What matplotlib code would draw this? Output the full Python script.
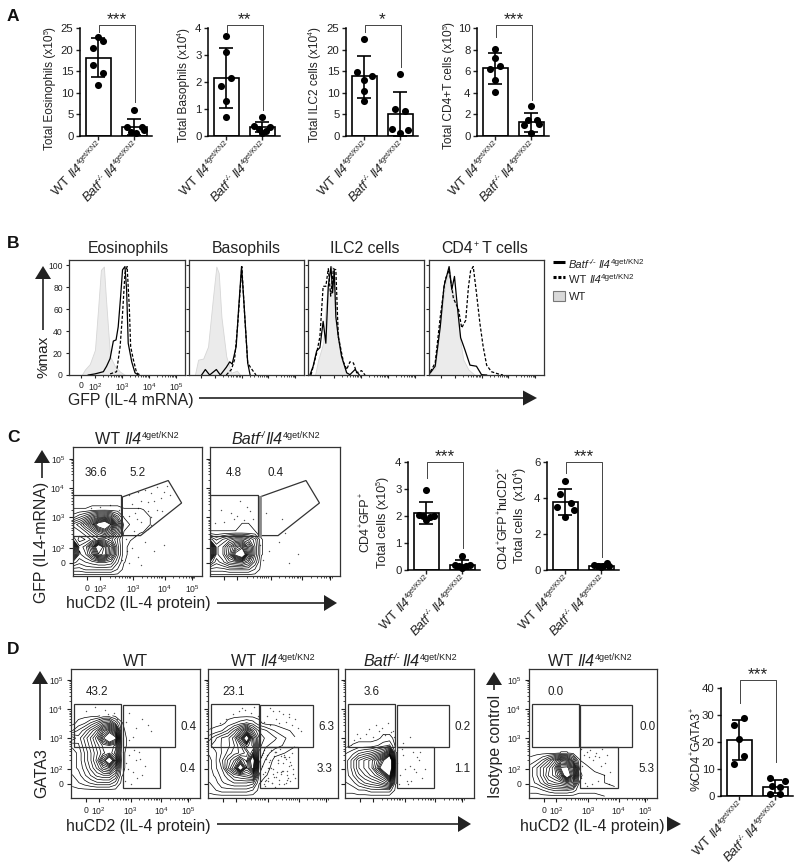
import numpy as np
import matplotlib
matplotlib.use("Agg")
import matplotlib.pyplot as plt
from matplotlib.font_manager import FontProperties
from matplotlib.patches import Polygon, Rectangle

plt.rcParams["font.family"] = "Liberation Sans"
plt.rcParams["mathtext.default"] = "regular"

W, H = 800, 868
INK = "#222222"

# bar panels: mean, error bar ends, dots and their horizontal spread
eos_wt = [23.0, 22.0, 20.3, 16.5, 14.5, 11.8]
eos_wt_x = [0, 0.14, -0.14, -0.14, 0.14, 0]
eos_ko = [6.0, 2.1, 2.0, 1.5, 1.0, 0.8]
eos_ko_x = [0, -0.2, 0.2, 0.28, -0.1, 0.05]
eos_bar, eos_lo, eos_hi = [18.1, 2.0], [13.6, 0.2], [22.6, 4.0]

baso_wt = [3.7, 3.1, 2.15, 1.85, 1.3, 0.7]
baso_wt_x = [0, 0, 0.14, -0.14, 0, 0]
baso_ko = [0.72, 0.37, 0.35, 0.25, 0.2, 0.12]
baso_ko_x = [0, -0.22, 0.2, -0.1, 0.1, 0]
baso_bar, baso_lo, baso_hi = [2.15, 0.33], [1.02, 0.13], [3.25, 0.53]

ilc_wt = [22.4, 14.8, 13.8, 13.0, 10.4, 8.0]
ilc_wt_x = [0, -0.2, 0.2, 0, 0, 0]
ilc_ko = [14.3, 6.3, 5.9, 1.6, 1.4, 0.6]
ilc_ko_x = [0, -0.15, 0.14, -0.22, 0.2, 0]
ilc_bar, ilc_lo, ilc_hi = [13.8, 5.1], [8.9, 0.0], [18.6, 10.2]

cd4_wt = [8.1, 7.2, 6.5, 6.2, 5.2, 4.1]
cd4_wt_x = [0, 0, 0.14, -0.14, 0, 0]
cd4_ko = [2.8, 1.5, 1.45, 1.1, 1.0, 0.3]
cd4_ko_x = [0, -0.1, 0.15, 0.2, -0.2, 0]
cd4_bar, cd4_lo, cd4_hi = [6.3, 1.3], [4.85, 0.4], [7.7, 2.15]

gfp_wt = [2.95, 2.05, 2.0, 2.0, 1.95, 1.85]
gfp_wt_x = [0, -0.2, -0.1, 0.2, 0.1, 0]
gfp_ko = [0.52, 0.2, 0.2, 0.15, 0.13, 0.08]
gfp_ko_x = [0, -0.2, 0.2, -0.1, 0.1, 0]
gfp_bar, gfp_lo, gfp_hi = [2.1, 0.2], [1.7, 0.05], [2.52, 0.36]

hucd2_wt = [4.95, 4.2, 3.75, 3.5, 3.35, 2.95]
hucd2_wt_x = [0, -0.14, 0.15, -0.22, 0.24, 0]
hucd2_ko = [0.4, 0.3, 0.25, 0.2, 0.2, 0.15]
hucd2_ko_x = [0.15, -0.2, 0.05, -0.1, 0.22, 0]
hucd2_bar, hucd2_lo, hucd2_hi = [3.8, 0.25], [3.05, 0.15], [4.5, 0.35]

gata_wt = [28.8, 26.2, 21.0, 14.8, 11.8]
gata_wt_x = [0.14, -0.14, 0, 0.14, -0.14]
gata_ko = [6.8, 5.6, 3.6, 3.4, 0.8, 0.7]
gata_ko_x = [-0.14, 0.28, -0.1, 0.14, -0.14, 0.14]
gata_bar, gata_lo, gata_hi = [20.8, 3.5], [13.5, 1.0], [28.0, 6.0]

# histograms, x in decades of GFP, y in % of max
eos_grey = ([1.51, 1.63, 1.81, 2.0, 2.12, 2.22, 2.33, 2.4, 2.49, 2.56, 2.74, 2.93, 3.11],
            [0, 5, 10, 23, 62, 96, 99, 72, 41, 17, 8, 3, 0])
eos_solid = ([1.75, 2.0, 2.31, 2.43, 2.56, 2.68, 2.78, 2.86, 2.95, 3.02, 3.11, 3.17, 3.23, 3.36, 3.48, 3.6],
             [0, 1, 3, 8, 15, 31, 32, 44, 72, 96, 99, 78, 29, 12, 2, 0])
eos_dash = ([2.56, 2.8, 2.93, 3.02, 3.11, 3.19, 3.27, 3.32, 3.42, 3.54, 3.67],
            [1, 3, 26, 56, 93, 99, 62, 26, 14, 2, 0])
baso_grey = ([1.26, 1.38, 1.57, 1.75, 1.94, 2.06, 2.15, 2.25, 2.43, 2.62, 2.83, 2.95],
             [0, 14, 15, 26, 72, 99, 93, 53, 17, 2, 4, 0])
baso_solid = ([1.51, 1.65, 1.81, 2.06, 2.21, 2.43, 2.56, 2.65, 2.8, 2.89, 3.0, 3.09, 3.23, 3.32],
              [0, 5, 0, 5, 0, 7, 12, 10, 26, 60, 99, 66, 11, 0])
baso_dash = ([2.43, 2.62, 2.74, 2.86, 3.01, 3.11, 3.23, 3.36, 3.54],
             [0, 5, 14, 47, 99, 57, 11, 6, 0])
ilc_grey = ([1.3, 1.42, 1.6, 1.73, 1.85, 1.94, 2.04, 2.16, 2.28, 2.47, 2.59],
            [0, 14, 29, 72, 96, 99, 75, 38, 17, 2, 0])
ilc_solid = ([1.11, 1.23, 1.36, 1.48, 1.6, 1.7, 1.79, 1.89, 1.95, 2.01, 2.07, 2.16, 2.28, 2.47, 2.59, 2.78, 2.94],
             [0, 8, 22, 25, 49, 29, 81, 99, 75, 96, 53, 35, 17, 2, 0.3, 5, 0])
ilc_dash = ([1.15, 1.36, 1.48, 1.6, 1.7, 1.79, 1.88, 1.98, 2.07, 2.16, 2.35, 2.47, 2.59, 2.72, 2.84, 3.02, 3.15],
            [0, 20, 35, 81, 81, 97, 72, 97, 96, 35, 12, 5, 12, 11, 2, 4, 0])
t_grey = ([1.09, 1.27, 1.46, 1.64, 1.79, 1.89, 2.07, 2.2, 2.32, 2.51, 2.75],
          [3, 6, 47, 81, 99, 81, 62, 32, 14, 5, 0])
t_solid = ([1.09, 1.27, 1.46, 1.6, 1.79, 1.89, 1.99, 2.1, 2.22, 2.38, 2.57, 2.81, 3.0, 3.19],
           [2, 8, 44, 81, 99, 78, 90, 62, 34, 23, 9, 8, 0.3, 0])
t_dash = ([1.09, 1.27, 1.46, 1.64, 1.79, 1.95, 2.14, 2.26, 2.41, 2.51, 2.59, 2.69, 2.81, 2.94, 3.06, 3.19, 3.37, 3.62, 3.8],
          [3, 11, 53, 87, 96, 70, 60, 43, 50, 80, 95, 99, 75, 47, 26, 9, 3, 1, 0])

# contour heights, rows go bottom to top
grid_x = [1.15, 1.35, 1.55, 1.75, 1.95, 2.15, 2.35, 2.55, 2.75, 2.95, 3.25, 3.9]
grid_y = [1.1, 1.3, 1.55, 1.8, 2.05, 2.3, 2.55, 2.8, 3.05, 3.3, 3.55, 3.8]
empty = [0, 0, 0, 0, 0, 0, 0, 0, 0, 0, 0, 0]
c_wt = [empty,
        [3, 3, 4, 4, 4, 4, 4, 2, 0, 0, 0, 0],
        [8, 6, 7, 8, 9, 9, 8, 4, 0.6, 0, 0, 0],
        [20, 8, 10, 15, 24, 22, 14, 6, 1, 0, 0, 0],
        [26, 9, 11, 18, 30, 22, 15, 6, 1, 0, 0, 0],
        [10, 6, 7, 9, 11, 11, 9, 5, 1, 0.6, 0, 0],
        [7, 8, 10, 13, 17, 20, 16, 9, 2, 1, 0.6, 0],
        [9, 11, 15, 20, 28, 32, 24, 12, 3, 2, 1, 0],
        [3, 5, 7, 10, 13, 14, 11, 6, 2, 1, 1, 0],
        [0.6, 0.6, 0.6, 1, 1, 1, 1, 1, 0.6, 0.6, 0.6, 0],
        empty, empty]
c_ko = [empty,
        [3, 3, 3, 4, 4, 4, 4, 2, 0, 0, 0, 0],
        [10, 6, 8, 11, 12, 13, 10, 5, 0, 0, 0, 0],
        [24, 8, 10, 16, 26, 32, 17, 7, 0.6, 0, 0, 0],
        [24, 8, 10, 15, 20, 23, 15, 7, 0.6, 0, 0, 0],
        [8, 5, 7, 9, 11, 11, 9, 6, 0.6, 0, 0, 0],
        [0.6, 0.6, 0.6, 0.6, 0.6, 0.6, 0.6, 0.6, 0, 0, 0, 0],
        [0, 0, 0, 0, 0, 0.6, 0.6, 0, 0, 0, 0, 0],
        empty, empty, empty, empty]
d_wt = [empty, empty,
        [1, 2, 3, 4, 5, 5, 5, 3, 0, 0, 0, 0],
        [2, 3, 5, 7, 9, 10, 10, 7, 0.6, 0, 0, 0],
        [3, 4, 6, 9, 12, 16, 18, 12, 1, 0, 0, 0],
        [3, 4, 7, 10, 14, 22, 30, 20, 1, 0, 0, 0],
        [3, 4, 7, 10, 13, 16, 18, 14, 1, 0, 0, 0],
        [4, 5, 8, 11, 14, 17, 18, 16, 2, 0, 0, 0],
        [8, 6, 9, 12, 16, 24, 32, 26, 2, 0, 0, 0],
        [2, 4, 6, 9, 12, 18, 22, 16, 1, 0, 0, 0],
        [0, 1, 2, 4, 6, 9, 10, 5, 0.6, 0, 0, 0],
        [0, 0, 0, 0, 0, 1, 1, 0, 0, 0, 0, 0]]
d_het = [empty,
         [1, 2, 3, 3, 3, 3, 3, 2, 0, 0, 0, 0],
         [2, 3, 5, 6, 7, 7, 7, 6, 0.6, 0, 0, 0],
         [3, 4, 6, 8, 11, 12, 13, 15, 2, 0.6, 0, 0],
         [3, 5, 7, 13, 18, 30, 18, 26, 3, 1, 0, 0],
         [3, 5, 8, 12, 15, 20, 16, 30, 4, 2, 0, 0],
         [4, 5, 7, 9, 11, 12, 14, 20, 5, 3, 1, 0],
         [5, 6, 7, 8, 10, 13, 19, 16, 6, 4, 3, 0.6],
         [3, 5, 7, 8, 11, 18, 30, 14, 7, 5, 4, 0.6],
         [0.6, 1, 2, 4, 7, 11, 16, 9, 5, 4, 2, 0],
         [0, 0, 0, 1, 2, 3, 4, 3, 1, 0, 0, 0],
         empty]
d_ko = [empty,
        [1, 1, 2, 2, 3, 3, 3, 3, 0, 0, 0, 0],
        [2, 3, 5, 7, 8, 9, 11, 14, 0.6, 0, 0, 0],
        [3, 5, 8, 10, 12, 14, 17, 26, 0.6, 0, 0, 0],
        [3, 6, 10, 12, 14, 20, 30, 36, 0.6, 0, 0, 0],
        [3, 6, 10, 12, 14, 18, 24, 36, 0.6, 0, 0, 0],
        [2, 3, 5, 6, 7, 9, 11, 18, 0.6, 0, 0, 0],
        [0, 0.6, 1, 1, 1, 2, 3, 4, 0, 0, 0, 0],
        [0, 0, 0, 0, 0, 0, 1, 1, 0, 0, 0, 0],
        empty, empty, empty]
d_iso = [[0, 0, 0, 0, 0, 0, 0, 0, 0, 0, 0, 1],
         [1, 1, 2, 3, 4, 4, 4, 3, 1, 1, 1, 1],
         [3, 4, 6, 9, 10, 11, 13, 11, 2, 1, 1, 0],
         [3, 5, 8, 12, 14, 19, 30, 20, 3, 1, 1, 0],
         [3, 5, 8, 11, 15, 25, 26, 18, 2, 1, 0, 0],
         [1, 2, 4, 7, 11, 17, 15, 8, 0.6, 0, 0, 0],
         [0, 0, 0, 0, 0, 0.6, 0.6, 0, 0, 0, 0, 0],
         empty, empty, empty, empty, empty]

# single events outside the contours
c_wt_dots = ([1.7, 2.0, 2.3, 2.6, 2.9, 3.0, 3.1, 3.2, 3.3, 3.4, 3.5, 3.6, 3.7, 3.8, 3.9, 4.0, 4.1, 3.2, 3.5, 3.8, 2.9, 3.3,
              3.6, 4.2, 2.8, 3.0, 3.2, 3.4, 3.7, 4.0, 2.9, 3.1, 3.3, 2.85, 3.05, 3.5, 2.7, 3.15, 3.6, 3.95],
             [3.35, 3.4, 3.45, 3.3, 3.8, 3.5, 3.2, 3.9, 3.6, 3.95, 3.55, 3.85, 3.6, 4.05, 3.7, 3.9, 4.1, 3.35, 3.25, 3.3, 3.1, 2.9,
              2.8, 3.8, 2.3, 2.0, 1.7, 2.2, 1.9, 2.1, 1.5, 2.4, 1.45, 1.9, 2.6, 2.65, 1.6, 3.0, 3.05, 3.25])
c_ko_dots = ([1.3, 1.6, 1.9, 2.2, 2.5, 1.5, 1.8, 2.1, 2.4, 2.7, 3.0, 3.3, 3.6, 3.9, 2.9, 3.4, 2.8, 3.5, 2.0, 2.3],
             [2.85, 2.9, 3.0, 2.95, 3.0, 3.3, 3.2, 3.6, 3.25, 2.1, 1.9, 2.2, 1.5, 1.8, 3.2, 3.0, 1.6, 2.5, 3.1, 3.4])
d_wt_dots = ([2.8, 2.9, 3.0, 3.1, 3.2, 3.3, 3.4, 3.5, 2.85, 2.95, 3.05, 3.15, 3.25, 3.35, 2.8, 3.0, 3.2, 2.9, 3.1, 3.6, 1.6, 1.9,
              2.2, 2.5, 2.0, 2.3, 2.6, 3.0, 3.4, 3.7],
             [2.6, 2.2, 2.5, 1.9, 2.3, 2.6, 1.8, 2.1, 1.6, 2.0, 1.5, 2.65, 1.7, 2.35, 2.0, 3.0, 3.4, 3.6, 3.1, 3.5, 3.95, 4.1,
              4.0, 3.9, 3.7, 3.85, 3.7, 3.9, 3.7, 3.3])
d_het_dots = ([2.8, 2.85, 2.9, 2.95, 3.0, 3.05, 3.1, 3.15, 3.2, 3.25, 3.3, 3.35, 3.4, 3.45, 3.5, 3.55, 3.6, 3.65, 3.7, 3.75,
               3.8, 3.85, 3.9, 2.82, 2.92, 3.02, 3.12, 3.22, 3.32, 3.42, 3.52, 3.62, 3.72, 2.88, 2.98, 3.08, 3.18, 3.28, 3.38, 3.48,
               3.58, 3.68, 3.78, 2.84, 2.94, 3.04, 3.14, 3.24, 3.34, 3.44, 3.54, 3.64, 3.74, 3.84, 2.86, 2.96, 3.06, 3.16, 3.26, 3.36,
               3.46, 3.56, 3.66, 2.9, 3.0, 3.1, 3.2, 3.3, 3.4, 3.5, 3.6, 3.7, 3.8, 3.9, 4.0, 4.1, 1.5, 1.7, 1.9, 2.1,
               2.3, 2.5, 2.7, 2.2, 2.6, 3.1, 3.4, 3.7, 2.95, 3.25],
              [1.6, 2.1, 1.5, 1.9, 2.5, 1.7, 2.3, 1.55, 2.0, 2.6, 1.75, 2.2, 1.65, 2.45, 1.95, 1.5, 2.35, 1.8, 2.1, 1.6,
               2.55, 2.0, 1.7, 2.4, 2.65, 1.6, 2.05, 2.45, 1.9, 2.7, 2.2, 1.55, 2.4, 2.55, 1.65, 2.25, 1.85, 2.6, 1.5, 1.95,
               2.4, 1.7, 2.15, 2.5, 1.6, 2.05, 2.65, 1.75, 2.3, 1.9, 2.5, 1.65, 2.25, 1.85, 1.85, 2.35, 2.05, 1.55, 2.6, 2.3,
               1.85, 2.4, 1.95, 3.6, 3.8, 3.5, 3.95, 3.7, 3.55, 3.85, 3.6, 3.75, 3.5, 3.7, 3.4, 3.3, 3.55, 3.7, 3.85, 3.95,
               4.0, 3.9, 3.8, 4.05, 4.1, 4.05, 3.95, 3.85, 1.45, 1.4])
d_ko_dots = ([2.8, 2.9, 3.0, 3.1, 3.2, 3.3, 3.4, 3.5, 3.6, 2.85, 3.05, 3.25, 3.45, 2.95, 3.15, 3.35, 3.55, 2.8, 3.0, 3.2, 1.4, 1.6,
              1.8, 2.0, 2.2, 2.4, 2.6, 2.7, 1.5, 1.9, 2.3, 2.65, 2.1, 2.5, 3.7],
             [2.2, 1.8, 2.5, 1.6, 2.1, 2.6, 1.9, 2.3, 1.7, 1.5, 2.0, 1.6, 2.4, 2.7, 1.5, 2.0, 2.6, 2.65, 2.9, 3.1, 3.0, 3.05,
              3.2, 3.1, 3.3, 3.15, 3.25, 3.1, 3.2, 3.35, 3.4, 3.3, 3.5, 3.55, 2.0])
d_iso_dots = ([2.8, 2.9, 3.0, 3.1, 3.2, 3.3, 3.4, 3.5, 3.6, 2.85, 3.05, 3.25, 3.45, 3.65, 2.95, 3.15, 3.35, 3.55, 3.75, 2.8, 3.0, 3.7],
              [2.7, 2.5, 2.6, 2.65, 2.3, 2.55, 2.4, 2.7, 2.2, 2.1, 2.4, 2.45, 2.1, 2.5, 1.55, 1.5, 1.6, 1.8, 1.9, 1.7, 1.45, 1.5])

# gates in decades
c_rect = (1.15, 2.41, 2.65, 3.77)
c_poly = [(2.7, 3.72), (4.14, 4.27), (4.56, 3.52), (3.27, 2.43), (2.7, 2.43)]
d_ul = (1.22, 2.74, 2.73, 4.19)
d_ur = (2.78, 2.76, 4.48, 4.16)
d_lr = (2.78, 1.39, 4.0, 2.76)

# tick places
fc_x_ticks = [1.6, 2.0, 3.04, 4.03, 4.89]
fc_y_ticks = [1.52, 2.0, 3.05, 4.03, 5.0]
fc_labels = ["0", "$10^{2}$", "$10^{3}$", "$10^{4}$", "$10^{5}$"]
hist_x_ticks = [1.5, 2.0, 3.0, 4.0, 5.0]
hist_y_ticks = [0, 20, 40, 60, 80, 100]

fig = plt.figure(figsize=(W / 100, H / 100), dpi=100)
renderer = fig.canvas.get_renderer()


def px_axes(x0, y0, x1, y1, **kw):
    return fig.add_axes([x0 / W, 1 - y1 / H, (x1 - x0) / W, (y1 - y0) / H], **kw)


over = px_axes(0, 0, W, H, zorder=20)
over.set_xlim(0, W)
over.set_ylim(H, 0)
over.axis("off")


def text_w(s, size, style):
    fp = FontProperties(family="Liberation Sans", size=size, style=style)
    a = renderer.get_text_width_height_descent(s + "|", fp, False)[0]
    b = renderer.get_text_width_height_descent("|", fp, False)[0]
    return a - b


def rich(x, y, parts, size, angle=0, align="start", sup=0.56):
    # runs of normal / italic / superscript text on one rotated baseline
    a = np.radians(angle)
    dx, dy = np.cos(a), -np.sin(a)
    sizes = [size * sup if k in "su" else size for s, k in parts]
    styles = ["italic" if k in "iu" else "normal" for s, k in parts]
    total = sum(text_w(p[0], z, st) for p, z, st in zip(parts, sizes, styles))
    if align == "end":
        x, y = x - total * dx, y - total * dy
    elif align == "center":
        x, y = x - total * dx / 2, y - total * dy / 2
    for (s, k), z, st in zip(parts, sizes, styles):
        up = size * 1.389 * 0.40 if k in "su" else 0
        over.text(x - np.sin(a) * up, y - np.cos(a) * up, s, fontsize=z, style=st, color=INK,
                  rotation=angle, rotation_mode="anchor", ha="left", va="baseline")
        w = text_w(s, z, st)
        x, y = x + w * dx, y + w * dy


WT_IL4 = [("WT ", "n"), ("Il4", "i"), ("4get/KN2", "s")]
KO_IL4 = [("Batf", "i"), ("-/-", "u"), (" ", "s"), ("Il4", "i"), ("4get/KN2", "s")]
KO_IL4_C = [("Batf", "i"), ("-/", "u"), ("Il4", "i"), ("4get/KN2", "s")]


def arrow(x0, y0, x1, y1, hw=8, hl=13):
    d = np.array([x1 - x0, y1 - y0], float)
    d /= np.hypot(*d)
    n = np.array([-d[1], d[0]])
    tip = np.array([x1, y1])
    base = tip - d * hl
    over.plot([x0, base[0]], [y0, base[1]], color=INK, lw=1.2, solid_capstyle="butt")
    over.add_patch(Polygon([tip, base + n * hw, base - n * hw], closed=True, fc=INK, ec="none"))


def bar_panel(box, ymax, ticks, bars, lo, hi, wt, wt_x, ko, ko_x, stars, legs):
    x0, y0, x1, y1 = box
    ax = px_axes(x0, y0, x1, y1)
    ax.patch.set_alpha(0)
    ax.set_xlim(-0.51, 1.49)
    ax.set_ylim(0, ymax)
    ax.bar([0, 1], bars, width=0.68, fc="white", ec="black", lw=1.2, zorder=2)
    for i in [0, 1]:
        ax.errorbar(i, bars[i], yerr=[[bars[i] - lo[i]], [hi[i] - bars[i]]], color="black",
                    lw=1.2, capsize=4.8, capthick=1.2, zorder=3)
    ax.scatter(wt_x, wt, s=26, c="black", zorder=4, clip_on=False, lw=0)
    ax.scatter(np.array(ko_x) + 1, ko, s=26, c="black", zorder=4, clip_on=False, lw=0)
    ax.set_xticks([0, 1], ["", ""])
    ax.set_yticks(ticks)
    ax.tick_params(length=3.2, width=1.0, labelsize=8.2, pad=1.5, colors=INK)
    ax.tick_params(axis="x", length=3)
    for s in ["top", "right"]:
        ax.spines[s].set_visible(False)
    for s in ["left", "bottom"]:
        ax.spines[s].set_linewidth(1.1)
    # bracket and the rotated group names, placed from the bar centres
    c0, c1 = x0 + 18.5, x0 + 54.5
    top, left_end, right_end = legs
    over.plot([c0, c0, c1, c1], [left_end, top, top, right_end], color="#444444", lw=0.7)
    over.text((c0 + c1) / 2, top - 5, stars, fontsize=12.5, ha="center", va="center", color=INK)
    rich(c0 + 5, y1 + 10, WT_IL4, 9.4, angle=47, align="end")
    rich(c1 + 5, y1 + 10, KO_IL4, 9.4, angle=47, align="end")
    return ax


def facs_ticks(ax, labels_x=False, labels_y=False):
    ax.set_xticks(fc_x_ticks, fc_labels if labels_x else [""] * 5)
    ax.set_yticks(fc_y_ticks, fc_labels if labels_y else [""] * 5)
    minor = [d + np.log10(k) for d in [2, 3, 4] for k in range(2, 10)]
    ax.set_xticks(minor, minor=True)
    ax.set_yticks(minor, minor=True)
    ax.tick_params(which="major", length=3, width=0.8, labelsize=6.2, pad=2.5, colors=INK)
    ax.tick_params(which="minor", length=1.5, width=0.5)
    for s in ax.spines.values():
        s.set_linewidth(0.9)
        s.set_color("#333333")


def facs(box, grid, dots, xlim, ylim, rects, poly=None, lab_x=False, lab_y=False):
    ax = px_axes(*box)
    ax.set_xlim(*xlim)
    ax.set_ylim(*ylim)
    ax.scatter(dots[0], dots[1], s=1.0, c="#555555", lw=0, zorder=1)
    ax.contour(grid_x, grid_y, np.array(grid, float), levels=np.arange(0.5, 26, 1.6),
               colors="black", linewidths=0.5, zorder=2)
    for r in rects:
        ax.add_patch(Rectangle((r[0], r[1]), r[2] - r[0], r[3] - r[1], fill=False,
                               ec="#333333", lw=0.9, zorder=3))
    if poly is not None:
        ax.add_patch(Polygon(poly, closed=True, fill=False, ec="#333333", lw=0.9, zorder=3))
    facs_ticks(ax, lab_x, lab_y)
    return ax


# panel A
bar_panel((80, 28, 152, 136), 25, [0, 5, 10, 15, 20, 25], eos_bar, eos_lo, eos_hi,
          eos_wt, eos_wt_x, eos_ko, eos_ko_x, "***", (25, 32, 102))
bar_panel((208, 28, 280, 136), 4, [0, 1, 2, 3, 4], baso_bar, baso_lo, baso_hi,
          baso_wt, baso_wt_x, baso_ko, baso_ko_x, "**", (25, 32, 110))
bar_panel((346, 28, 418, 136), 25, [0, 5, 10, 15, 20, 25], ilc_bar, ilc_lo, ilc_hi,
          ilc_wt, ilc_wt_x, ilc_ko, ilc_ko_x, "*", (25, 32, 67))
bar_panel((477, 28, 549, 136), 10, [0, 2, 4, 6, 8, 10], cd4_bar, cd4_lo, cd4_hi,
          cd4_wt, cd4_wt_x, cd4_ko, cd4_ko_x, "***", (25, 37, 100))
rich(53, 150, [("Total Eosinophils (x10", "n"), ("5", "s"), (")", "n")], 8.6, angle=90)
rich(187, 142, [("Total Basophils (x10", "n"), ("4", "s"), (")", "n")], 8.6, angle=90)
rich(318, 142, [("Total ILC2 cells (x10", "n"), ("4", "s"), (")", "n")], 8.6, angle=90)
rich(452, 149, [("Total CD4+T cells (x10", "n"), ("5", "s"), (")", "n")], 8.6, angle=90)

# panel B
hist_boxes = [(69, 260, 185, 375), (189, 260, 304, 375), (308, 260, 424, 375), (429, 260, 544, 375)]
hist_data = [(eos_grey, eos_solid, eos_dash), (baso_grey, baso_solid, baso_dash),
             (ilc_grey, ilc_solid, ilc_dash), (t_grey, t_solid, t_dash)]
hist_titles = [("Eosinophils", 128), ("Basophils", 246), ("ILC2 cells", 365)]
for i, (box, (grey, solid, dash)) in enumerate(zip(hist_boxes, hist_data)):
    ax = px_axes(*box)
    ax.set_xlim(1.04, 5.33)
    ax.set_ylim(0, 105)
    ax.fill_between(grey[0], grey[1], color="#ebebeb", ec="#d6d6d6", lw=0.6)
    ax.plot(dash[0], dash[1], color="black", lw=0.9, dashes=(2.5, 1.5))
    ax.plot(solid[0], solid[1], color="black", lw=0.9)
    ax.set_xticks(hist_x_ticks, fc_labels if i == 0 else [""] * 5)
    ax.set_yticks(hist_y_ticks, hist_y_ticks if i == 0 else [""] * 6)
    ax.set_xticks([d + np.log10(k) for d in [2, 3, 4] for k in range(2, 10)], minor=True)
    ax.tick_params(which="major", length=2.5, width=0.8, labelsize=6.2, pad=2, colors=INK)
    ax.tick_params(which="minor", length=1.2, width=0.5)
    for s in ax.spines.values():
        s.set_linewidth(0.9)
        s.set_color("#333333")
for name, cx in hist_titles:
    over.text(cx, 253, name, fontsize=11.4, ha="center", va="baseline", color=INK)
rich(485, 253, [("CD4", "n"), ("+", "s"), (" T cells", "n")], 11.4, align="center")
over.text(48, 378, "%max", fontsize=11, rotation=90, rotation_mode="anchor", ha="left", va="baseline", color=INK)
over.text(68, 405, "GFP (IL-4 mRNA)", fontsize=11.4, ha="left", va="baseline", color=INK)
arrow(43, 330, 43, 266)
arrow(199, 398, 537, 398, hw=7.5, hl=14)
over.plot([553, 565], [262, 262], color="black", lw=2.2, solid_capstyle="butt")
over.plot([553, 565], [277, 277], color="black", lw=2.2, dashes=(1, 0.6))
over.add_patch(Rectangle((553, 291), 12, 10, fc="#d9d9d9", ec="#777777", lw=0.8))
rich(569, 268, KO_IL4, 8, sup=0.72)
rich(569, 283, WT_IL4, 8, sup=0.72)
over.text(569, 300, "WT", fontsize=8, va="baseline", color=INK)

# panel C
c_xlim, c_ylim = (1.15, 5.2), (1.08, 5.39)
facs((73, 447, 202, 576), c_wt, c_wt_dots, c_xlim, c_ylim, [c_rect], c_poly, True, True)
ax = facs((210, 447, 340, 576), c_ko, c_ko_dots, c_xlim, c_ylim, [c_rect], c_poly)
ax.plot([2.72, 2.72], [2.43, 3.72], color="#888888", lw=2, zorder=3)
rich(95, 444, WT_IL4, 11.6)
rich(231, 444, KO_IL4_C, 11.6)
for s, x in [("36.6", 96), ("5.2", 138), ("4.8", 234), ("0.4", 276)]:
    over.text(x, 473, s, fontsize=8.4, ha="center", va="center", color=INK)
arrow(42, 478, 42, 450)
over.text(46, 603, "GFP (IL4-mRNA)", fontsize=11.4, rotation=90, rotation_mode="anchor", ha="left", va="baseline", color=INK)
over.text(66, 608, "huCD2 (IL-4 protein)", fontsize=11.4, ha="left", va="baseline", color=INK)
arrow(217, 603, 337, 603)

bar_panel((408, 462, 480, 570), 4, [0, 1, 2, 3, 4], gfp_bar, gfp_lo, gfp_hi,
          gfp_wt, gfp_wt_x, gfp_ko, gfp_ko_x, "***", (462, 478, 548))
bar_panel((547, 462, 619, 570), 6, [0, 2, 4, 6], hucd2_bar, hucd2_lo, hucd2_hi,
          hucd2_wt, hucd2_wt_x, hucd2_ko, hucd2_ko_x, "***", (462, 473, 557))
rich(368, 552, [("CD4", "n"), ("+", "s"), ("GFP", "n"), ("+", "s")], 9, angle=90)
rich(386, 568, [("Total cells (x10", "n"), ("5", "s"), (")", "n")], 9, angle=90)
rich(506, 569, [("CD4", "n"), ("+", "s"), ("GFP", "n"), ("+", "s"), ("huCD2", "n"), ("+", "s")], 9, angle=90)
rich(523, 563, [("Total cells  (x10", "n"), ("4", "s"), (")", "n")], 9, angle=90)

# panel D
d_xlim, d_ylim = (1.11, 5.28), (1.04, 5.37)
d_gates = [d_ul, d_ur, d_lr]
facs((71, 669, 200, 798), d_wt, d_wt_dots, d_xlim, d_ylim, d_gates, None, True, True)
facs((208, 669, 338, 798), d_het, d_het_dots, d_xlim, d_ylim, d_gates)
facs((345, 669, 474, 798), d_ko, d_ko_dots, d_xlim, d_ylim, d_gates)
facs((529, 669, 657, 798), d_iso, d_iso_dots, d_xlim, d_ylim, d_gates, None, True, True)
over.text(135, 666, "WT", fontsize=11.6, ha="center", va="baseline", color=INK)
rich(231, 666, WT_IL4, 11.6)
rich(363, 666, KO_IL4, 11.6)
rich(548, 666, WT_IL4, 11.6)
d_pct = [("43.2", 97, 692), ("0.4", 189, 727), ("0.4", 188, 769), ("23.1", 234, 692), ("6.3", 326, 727),
         ("3.3", 325, 769), ("3.6", 372, 692), ("0.2", 463, 727), ("1.1", 462, 769), ("0.0", 556, 692),
         ("0.0", 648, 727), ("5.3", 646, 769)]
for s, x, y in d_pct:
    over.text(x, y, s, fontsize=8.4, ha="center", va="center", color=INK)
arrow(40, 740, 40, 671)
arrow(494, 690, 494, 672)
over.text(46, 798, "GATA3", fontsize=11.4, rotation=90, rotation_mode="anchor", ha="left", va="baseline", color=INK)
over.text(500, 798, "Isotype control", fontsize=11.4, rotation=90, rotation_mode="anchor", ha="left", va="baseline", color=INK)
over.text(66, 831, "huCD2 (IL-4 protein)", fontsize=11.4, ha="left", va="baseline", color=INK)
over.text(520, 831, "huCD2 (IL-4 protein)", fontsize=11.4, ha="left", va="baseline", color=INK)
arrow(217, 824, 471, 824)
over.add_patch(Polygon([(667, 816.5), (681, 824), (667, 831.5)], closed=True, fc=INK, ec="none"))

bar_panel((721, 688, 793, 796), 40, [0, 10, 20, 30, 40], gata_bar, gata_lo, gata_hi,
          gata_wt, gata_wt_x, gata_ko, gata_ko_x, "***", (680, 703, 762))
rich(699, 791, [("%CD4", "n"), ("+", "s"), ("GATA3", "n"), ("+", "s")], 9, angle=90)

for s, y in [("A", 21), ("B", 248), ("C", 442), ("D", 654)]:
    over.text(7, y, s, fontsize=12.5, fontweight="bold", va="baseline", color="#111111")

fig.savefig("out.png", dpi=100)
